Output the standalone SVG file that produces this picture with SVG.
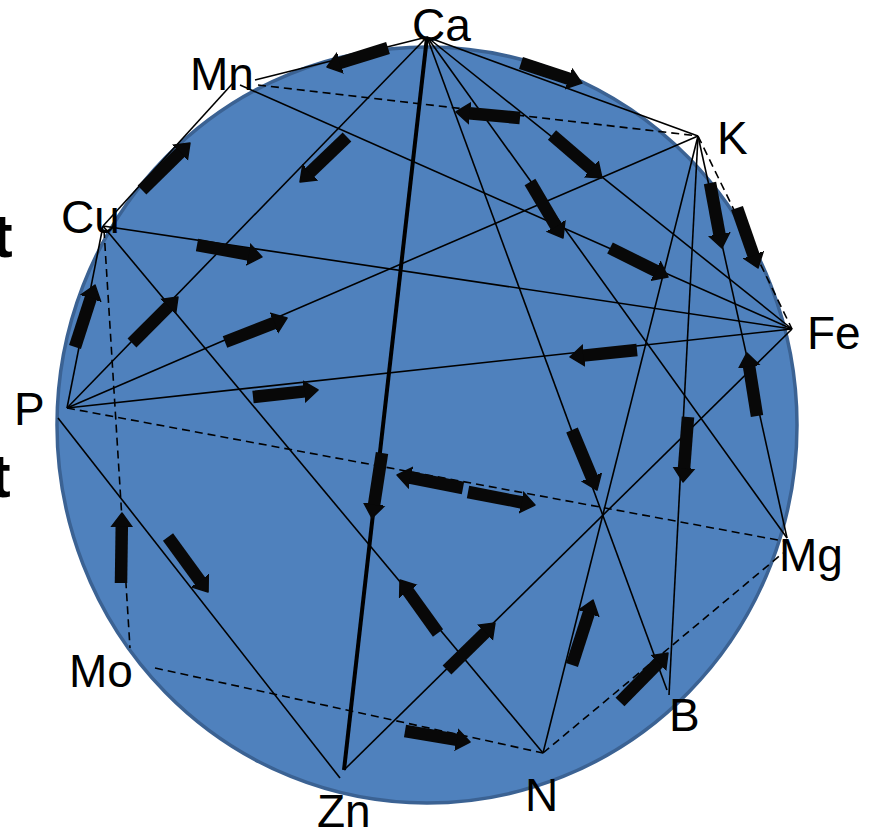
<svg xmlns="http://www.w3.org/2000/svg" width="874" height="829" viewBox="0 0 874 829">
<style>
.ln{stroke:#000;stroke-width:1.6;fill:none}
.dash{stroke-dasharray:8 5}
.thick{stroke-width:4}
.arr{stroke:#080808;stroke-width:12.5;stroke-linecap:butt;marker-end:url(#ah)}
.lbl{font-family:"Liberation Sans",Arial,sans-serif;font-size:46px;fill:#000}
.frag{font-family:"Liberation Sans",Arial,sans-serif;font-size:62px;font-weight:bold;fill:#000}
</style>
<defs>
<marker id="ah" markerUnits="userSpaceOnUse" markerWidth="16" markerHeight="24" viewBox="0 -12 16 24" refX="1" refY="0" orient="auto">
<path d="M0,-10.5 L14,0 L0,10.5 z" fill="#080808" stroke="#080808" stroke-width="1.5" stroke-linejoin="round"/>
</marker>
</defs>
<text class="frag" x="-8" y="257">t</text>
<text class="frag" x="-10" y="497">t</text>
<ellipse cx="427" cy="425" rx="370" ry="378" fill="#4f81bd" stroke="#3b6293" stroke-width="3.5"/>
<g id="connectors">
<line class="ln" x1="427" y1="37" x2="255" y2="80"/>
<line class="ln" x1="427" y1="37" x2="698" y2="136"/>
<line class="ln" x1="427" y1="37" x2="67" y2="408"/>
<line class="ln" x1="427" y1="37" x2="792" y2="329"/>
<line class="ln" x1="427" y1="37" x2="787" y2="538"/>
<line class="ln" x1="427" y1="37" x2="667" y2="690"/>
<line class="ln thick" x1="427" y1="37" x2="344" y2="770"/>
<line class="ln" x1="233" y1="83" x2="103" y2="226"/>
<line class="ln" x1="240" y1="85" x2="792" y2="329"/>
<line class="ln" x1="698" y1="136" x2="67" y2="408"/>
<line class="ln" x1="698" y1="136" x2="787" y2="538"/>
<line class="ln" x1="698" y1="136" x2="669" y2="695"/>
<line class="ln" x1="698" y1="136" x2="543" y2="753"/>
<line class="ln" x1="103" y1="226" x2="792" y2="329"/>
<line class="ln" x1="103" y1="226" x2="67" y2="408"/>
<line class="ln" x1="103" y1="226" x2="543" y2="753"/>
<line class="ln" x1="67" y1="408" x2="792" y2="329"/>
<line class="ln" x1="58" y1="418" x2="340" y2="778"/>
<line class="ln" x1="344" y1="770" x2="792" y2="329"/>
<line class="ln dash" x1="258" y1="85" x2="698" y2="136"/>
<line class="ln dash" x1="698" y1="136" x2="792" y2="329"/>
<line class="ln dash" x1="67" y1="408" x2="783" y2="541"/>
<line class="ln dash" x1="104" y1="230" x2="130" y2="648"/>
<line class="ln dash" x1="155" y1="668" x2="543" y2="753"/>
<line class="ln dash" x1="543" y1="753" x2="783" y2="553"/>
<line class="arr" x1="388" y1="48" x2="339.4" y2="63.1"/>
<line class="arr" x1="521" y1="63" x2="569.6" y2="79"/>
<line class="arr" x1="520" y1="118" x2="468.9" y2="113.2"/>
<line class="arr" x1="347" y1="137" x2="309.4" y2="173"/>
<line class="arr" x1="142" y1="190" x2="180.7" y2="152.1"/>
<line class="arr" x1="552" y1="135" x2="592.1" y2="169.5"/>
<line class="arr" x1="530" y1="182" x2="556.4" y2="226.8"/>
<line class="arr" x1="710" y1="183" x2="719.6" y2="235.2"/>
<line class="arr" x1="737" y1="208" x2="753.7" y2="255.7"/>
<line class="arr" x1="197" y1="245" x2="249.2" y2="254.6"/>
<line class="arr" x1="610" y1="248" x2="656.4" y2="271.2"/>
<line class="arr" x1="75" y1="347" x2="91" y2="297.4"/>
<line class="arr" x1="132" y1="343" x2="168.8" y2="306.2"/>
<line class="arr" x1="225" y1="342" x2="274.9" y2="322.7"/>
<line class="arr" x1="637" y1="350" x2="582.9" y2="355.6"/>
<line class="arr" x1="757" y1="416" x2="749" y2="365.8"/>
<line class="arr" x1="253" y1="397" x2="305.1" y2="391.4"/>
<line class="arr" x1="688" y1="417" x2="684" y2="469"/>
<line class="arr" x1="572" y1="430" x2="592" y2="478"/>
<line class="arr" x1="382" y1="453" x2="374" y2="505.2"/>
<line class="arr" x1="463" y1="488" x2="409.8" y2="477.5"/>
<line class="arr" x1="468" y1="492" x2="522.2" y2="502.5"/>
<line class="arr" x1="121" y1="583" x2="121.8" y2="526"/>
<line class="arr" x1="168" y1="537" x2="200.4" y2="581.5"/>
<line class="arr" x1="438" y1="633" x2="407.6" y2="590.6"/>
<line class="arr" x1="572" y1="665" x2="589" y2="612.4"/>
<line class="arr" x1="447" y1="670" x2="485.7" y2="632.1"/>
<line class="arr" x1="620" y1="702" x2="658.9" y2="662.3"/>
<line class="arr" x1="405" y1="731" x2="457.2" y2="739.8"/>
</g>
<g id="node-Ca"><text class="lbl" x="412" y="41">Ca</text></g>
<g id="node-Mn"><text class="lbl" x="190" y="90">Mn</text></g>
<g id="node-K"><text class="lbl" x="717" y="154">K</text></g>
<g id="node-Cu"><text class="lbl" x="61" y="233">Cu</text></g>
<g id="node-Fe"><text class="lbl" x="807" y="349">Fe</text></g>
<g id="node-P"><text class="lbl" x="14" y="425">P</text></g>
<g id="node-Mg"><text class="lbl" x="779" y="571">Mg</text></g>
<g id="node-Mo"><text class="lbl" x="69" y="687">Mo</text></g>
<g id="node-B"><text class="lbl" x="669" y="731">B</text></g>
<g id="node-N"><text class="lbl" x="525" y="811">N</text></g>
<g id="node-Zn"><text class="lbl" x="317" y="827">Zn</text></g>
</svg>
